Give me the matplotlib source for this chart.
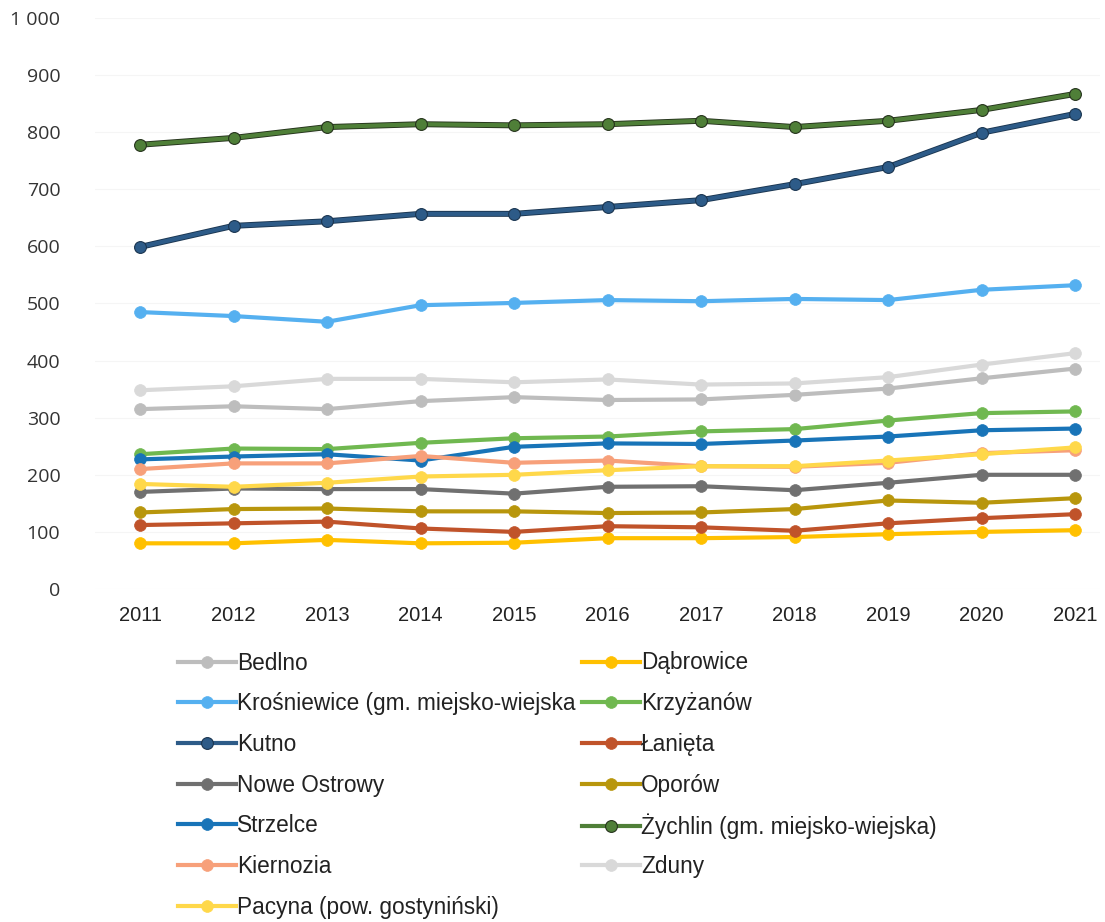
import matplotlib
matplotlib.use("Agg")
import matplotlib.pyplot as plt
from matplotlib.ticker import FuncFormatter

years = ["2011", "2012", "2013", "2014", "2015", "2016", "2017", "2018", "2019", "2020", "2021"]

bedlno      = [315, 320, 315, 329, 336, 331, 332, 340, 351, 369, 386]
dabrowice   = [80, 80, 86, 80, 81, 89, 89, 91, 96, 100, 103]
krosniewice = [485, 478, 468, 497, 501, 506, 504, 508, 506, 524, 532]
krzyzanow   = [236, 246, 245, 256, 264, 267, 276, 280, 295, 308, 311]
kutno       = [599, 636, 644, 657, 657, 669, 681, 709, 739, 799, 832]
lanieta     = [112, 115, 118, 106, 100, 110, 108, 102, 115, 124, 131]
nowe_ostr   = [170, 176, 175, 175, 167, 179, 180, 173, 186, 200, 200]
oporow      = [134, 140, 141, 136, 136, 133, 134, 140, 155, 151, 159]
strzelce    = [227, 232, 236, 225, 249, 255, 254, 260, 267, 278, 281]
zychlin     = [778, 790, 809, 814, 812, 814, 820, 809, 820, 839, 867]
kiernozia   = [210, 220, 220, 233, 221, 225, 215, 214, 221, 238, 243]
zduny       = [348, 355, 368, 368, 362, 367, 358, 360, 371, 393, 413]
pacyna      = [184, 179, 186, 197, 200, 208, 215, 215, 225, 236, 248]

labels = ["Bedlno", "Dąbrowice", "Krośniewice (gm. miejsko-wiejska", "Krzyżanów",
          "Kutno", "Łanięta", "Nowe Ostrowy", "Oporów", "Strzelce",
          "Żychlin (gm. miejsko-wiejska)", "Kiernozia", "Zduny", "Pacyna (pow. gostyniński)"]
series = [bedlno, dabrowice, krosniewice, krzyzanow, kutno, lanieta, nowe_ostr,
          oporow, strzelce, zychlin, kiernozia, zduny, pacyna]
colors = ["#bdbdbd", "#ffc000", "#55b0f0", "#70b850", "#2d5b88", "#c0532a", "#707070",
          "#b8960c", "#1874b8", "#4f7f38", "#f7a07a", "#d9d9d9", "#ffd84a"]
edges = {"Kutno": "#1a3550", "Żychlin (gm. miejsko-wiejska)": "#25331c"}

W, H = 1105, 922
fig = plt.figure(figsize=(W / 100, H / 100), dpi=100)
x0, x1 = 95, 1100
y0, y1 = 589, 18
ax = fig.add_axes([x0 / W, 1 - y0 / H, (x1 - x0) / W, (y0 - y1) / H])

xs = list(range(len(years)))
handles = {}
for lab, ys, c in zip(labels, series, colors):
    if lab in edges:
        ax.plot(xs, ys, color=edges[lab], lw=4.3, clip_on=False, solid_capstyle="round")
    ln, = ax.plot(xs, ys, color=c, lw=3.0, marker="o", ms=8.5, mec=edges.get(lab, c),
                  mew=0.8 if lab in edges else 0.5, mfc=c, clip_on=False, label=lab)
    handles[lab] = ln

scale = 93.5
ax.set_xlim(-(140 - x0) / scale, 10 + (x1 - 1075) / scale)
ax.set_ylim(0, 1000)
ax.set_yticks(range(0, 1001, 100))
ax.yaxis.set_major_formatter(FuncFormatter(lambda v, p: f"{int(v):,}".replace(",", " ")))
ax.set_xticks(xs)
ax.set_xticklabels(years)
for lbl in ax.get_xticklabels():
    lbl.set_fontfamily("Liberation Sans")
    lbl.set_fontsize(14.5)
    lbl.set_color("#222222")
for lbl in ax.get_yticklabels():
    lbl.set_fontfamily("Open Sans")
    lbl.set_fontsize(14)
    lbl.set_color("#333333")
ax.tick_params(axis="both", length=0)
ax.tick_params(axis="y", pad=25)
ax.tick_params(axis="x", pad=12)
for s in ax.spines.values():
    s.set_visible(False)
ax.grid(axis="y", color="#f5f5f5", lw=0.8)
ax.set_axisbelow(True)

col1 = ["Bedlno", "Krośniewice (gm. miejsko-wiejska", "Kutno", "Nowe Ostrowy", "Strzelce",
        "Kiernozia", "Pacyna (pow. gostyniński)"]
col2 = ["Dąbrowice", "Krzyżanów", "Łanięta", "Oporów", "Żychlin (gm. miejsko-wiejska)", "Zduny"]
row_y0, row_dy = 663, 40.7
for cx, col in ((178, col1), (582, col2)):
    for i, lab in enumerate(col):
        leg = fig.legend([handles[lab]], [lab], loc="center left",
                         bbox_to_anchor=(cx / W, 1 - (row_y0 + i * row_dy) / H),
                         frameon=False, prop={"family": "Liberation Sans", "size": 16.3},
                         handlelength=2.55, handletextpad=0.05, borderpad=0, borderaxespad=0)
        for t in leg.get_texts():
            t.set_color("#222222")

fig.savefig("out.png", dpi=100)
